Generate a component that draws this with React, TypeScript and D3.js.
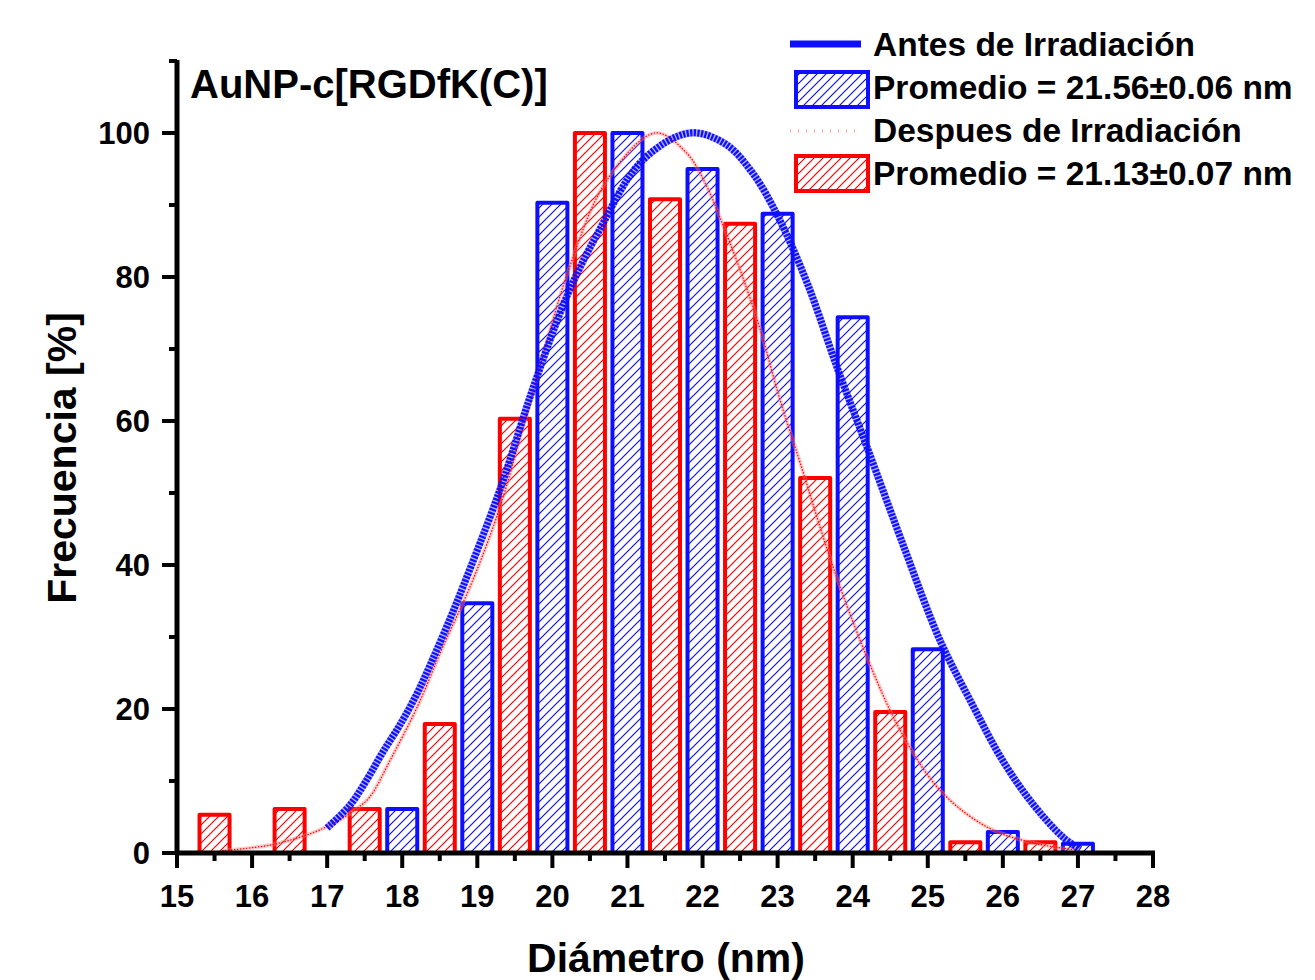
import React from "react";
import * as d3 from "d3";

// histogram bins (diameter centre, frequency %)
const antesCentres = [18, 19, 20, 21, 22, 23, 24, 25, 26, 27];
const antesFreq = [6.1, 34.7, 90.3, 100, 95, 88.8, 74.4, 28.3, 2.9, 1.3];
const despuesCentres = [15.5, 16.5, 17.5, 18.5, 19.5, 20.5, 21.5, 22.5, 23.5, 24.5, 25.5, 26.5];
const despuesFreq = [5.3, 6.1, 6.1, 17.9, 60.3, 100, 90.8, 87.4, 52.1, 19.6, 1.5, 1.5];

// fitted curves
const antesFitX = [17.0, 17.3, 17.53, 17.74, 17.97, 18.2, 18.41, 18.64, 18.81, 19.3, 19.74, 20.2, 20.6, 21.2, 21.83, 22.3, 22.67, 23.0, 23.4, 23.79, 24.19, 24.7, 25.16, 25.6, 26.0, 26.4, 26.8, 27.03];
const antesFitY = [3.5, 6.6, 10.2, 14.0, 17.8, 22.2, 27.0, 32.6, 37.0, 50.4, 64.5, 77.5, 86, 96.2, 100, 98.5, 94.4, 88.5, 79, 67.5, 56.4, 42, 29.6, 20.5, 12.8, 6.8, 2.2, 0.5];
const despuesFitX = [15.6, 16.24, 16.64, 16.9, 17.2, 17.4, 17.57, 17.84, 18.2, 18.54, 18.94, 19.3, 19.66, 20.23, 20.73, 21.37, 21.79, 22.06, 22.23, 22.5, 22.76, 23.03, 23.3, 23.74, 24.19, 24.63, 25.16, 25.79, 26.4, 26.99];
const despuesFitY = [0.3, 1.1, 2.2, 3.2, 4.8, 6.2, 7.8, 12.9, 20.3, 28.6, 37.9, 48, 61, 81.4, 93.5, 100, 97.2, 92.5, 88.3, 81, 73, 63, 54.2, 39.7, 27.2, 17.1, 8.75, 3.6, 1.4, 0.4];

const xTicks = d3.range(15, 29, 1);
const xMinor = d3.range(15.5, 28, 1);
const yTicks = [0, 20, 40, 60, 80, 100];
const yMinor = [10, 30, 50, 70, 90, 110];

const BLUE = "#0f0fff";
const RED = "#ff0000";
const FONT = "'Liberation Sans', Arial, sans-serif";

export default function App() {
  const x = d3.scaleLinear().domain([15, 28]).range([177, 1153]);
  const y = d3.scaleLinear().domain([0, 110]).range([853, 61]);
  const barW = x(15.4) - x(15);

  const line = d3
    .line<[number, number]>()
    .x((d) => x(d[0]))
    .y((d) => y(d[1]))
    .curve(d3.curveCatmullRom);

  const antesPath = line(antesFitX.map((v, i) => [v, antesFitY[i]]) as [number, number][]);
  const despuesPath = line(despuesFitX.map((v, i) => [v, despuesFitY[i]]) as [number, number][]);

  const bars = (centres: number[], vals: number[], color: string, pat: string) =>
    centres.map((c, i) => (
      <rect
        key={pat + i}
        x={x(c) - barW / 2}
        y={y(vals[i])}
        width={barW}
        height={y(0) - y(vals[i])}
        fill={`url(#${pat})`}
        stroke={color}
        strokeWidth={4}
        strokeLinejoin="round"
      />
    ));

  return (
    <svg
      width={1315}
      height={980}
      style={{ position: "absolute", left: 0, top: 0, background: "#fff" }}
      fontFamily={FONT}
    >
      <defs>
        <pattern id="hatchBlue" patternUnits="userSpaceOnUse" width={9} height={9}>
          <rect width={9} height={9} fill="#fff" />
          <path d="M-2,11 L11,-2 M-2,2 L2,-2 M7,11 L11,7" stroke={BLUE} strokeWidth={1.2} />
        </pattern>
        <pattern id="hatchRed" patternUnits="userSpaceOnUse" width={9} height={9}>
          <rect width={9} height={9} fill="#fff" />
          <path d="M-2,11 L11,-2 M-2,2 L2,-2 M7,11 L11,7" stroke={RED} strokeWidth={1.2} />
        </pattern>
      </defs>

      {/* bars */}
      {bars(despuesCentres, despuesFreq, RED, "hatchRed")}
      {bars(antesCentres, antesFreq, BLUE, "hatchBlue")}

      {/* fitted curves */}
      <path d={despuesPath ?? ""} fill="none" stroke="#ff8080" strokeOpacity={0.4} strokeWidth={4} />
      <path d={despuesPath ?? ""} fill="none" stroke={RED} strokeWidth={1.2} strokeDasharray="1.5,1.5" />
      <path d={antesPath ?? ""} fill="none" stroke={BLUE} strokeOpacity={0.35} strokeWidth={7.5} />
      <path d={antesPath ?? ""} fill="none" stroke={BLUE} strokeWidth={7} strokeDasharray="2.2,1.4" />

      {/* x axis */}
      <line x1={x(15) - 2} x2={x(28) + 2} y1={y(0)} y2={y(0)} stroke="#000" strokeWidth={5} />
      {xTicks.map((t) => (
        <g key={"xt" + t}>
          <line x1={x(t)} x2={x(t)} y1={y(0)} y2={y(0) + 15} stroke="#000" strokeWidth={4} />
          <text x={x(t)} y={907} textAnchor="middle" fontSize={31} fontWeight="bold">
            {t}
          </text>
        </g>
      ))}
      {xMinor.map((t) => (
        <line key={"xm" + t} x1={x(t)} x2={x(t)} y1={y(0)} y2={y(0) + 8} stroke="#000" strokeWidth={4} />
      ))}

      {/* y axis */}
      <line x1={x(15)} x2={x(15)} y1={y(0)} y2={y(110) - 1} stroke="#000" strokeWidth={5} />
      {yTicks.map((t) => (
        <g key={"yt" + t}>
          <line x1={x(15) - 15} x2={x(15)} y1={y(t)} y2={y(t)} stroke="#000" strokeWidth={4} />
          <text x={150} y={y(t) + 11} textAnchor="end" fontSize={31} fontWeight="bold">
            {t}
          </text>
        </g>
      ))}
      {yMinor.map((t) => (
        <line key={"ym" + t} x1={x(15) - 8} x2={x(15)} y1={y(t)} y2={y(t)} stroke="#000" strokeWidth={4} />
      ))}

      {/* axis titles */}
      <text x={666} y={972} textAnchor="middle" fontSize={41} fontWeight="bold">
        Diámetro (nm)
      </text>
      <text
        transform={`translate(76, 458) rotate(-90)`}
        textAnchor="middle"
        fontSize={41}
        fontWeight="bold"
      >
        Frecuencia [%]
      </text>

      {/* sample title */}
      <text x={190} y={98} fontSize={40} fontWeight="bold">
        AuNP-c[RGDfK(C)]
      </text>

      {/* legend */}
      <g fontSize={33.5} fontWeight="bold">
        <line x1={790} x2={861} y1={44} y2={44} stroke={BLUE} strokeWidth={7} />
        <text x={873} y={56}>Antes de Irradiación</text>
        <rect x={796} y={72} width={72} height={35} fill="url(#hatchBlue)" stroke={BLUE} strokeWidth={4} />
        <text x={873} y={99}>Promedio = 21.56±0.06 nm</text>
        <line x1={790} x2={861} y1={131} y2={131} stroke="#ff8080" strokeOpacity={0.6} strokeWidth={4} strokeDasharray="1,7" />
        <text x={873} y={142}>Despues de Irradiación</text>
        <rect x={796} y={156} width={72} height={35} fill="url(#hatchRed)" stroke={RED} strokeWidth={4} />
        <text x={873} y={185}>Promedio = 21.13±0.07 nm</text>
      </g>
    </svg>
  );
}
